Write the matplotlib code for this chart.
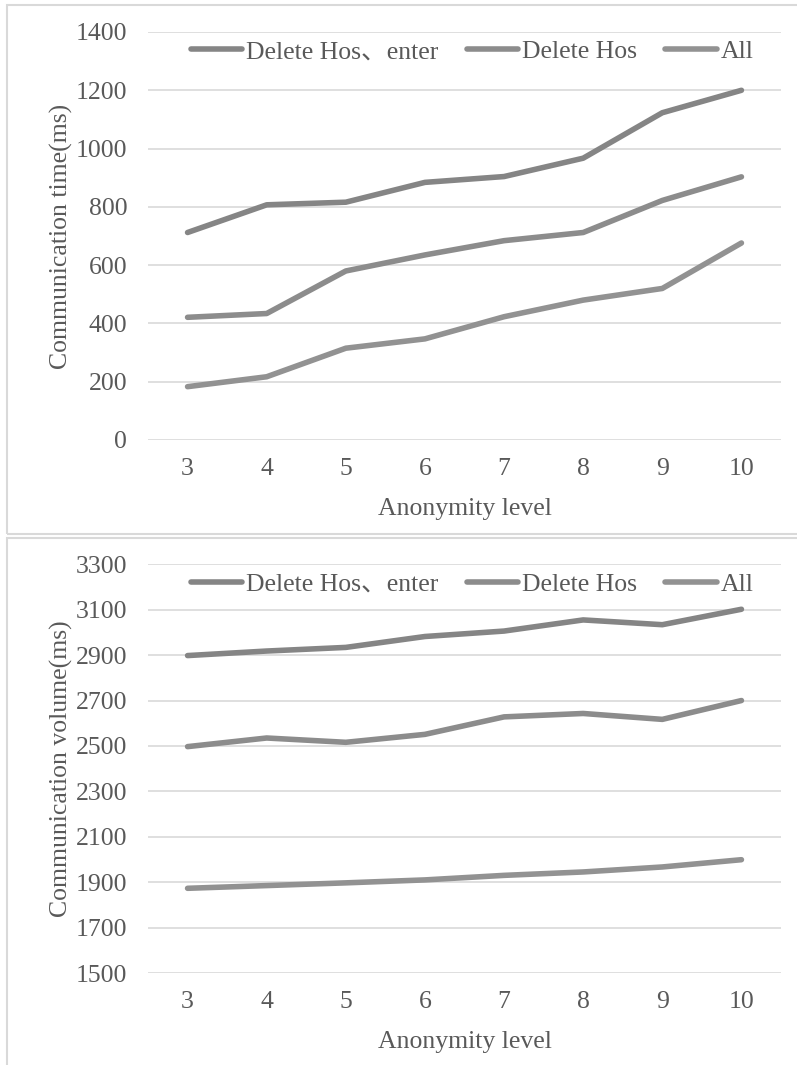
import matplotlib
matplotlib.use("Agg")
import matplotlib.pyplot as plt
from matplotlib.patches import Rectangle

plt.rcParams['font.family'] = ['Liberation Serif', 'Noto Sans CJK SC']

levels = [3, 4, 5, 6, 7, 8, 9, 10]
series_names = ['Delete Hos、enter', 'Delete Hos', 'All']

# communication time (ms)
time_hos_enter = [712, 807, 816, 884, 904, 967, 1123, 1200]
time_hos = [421, 434, 580, 635, 684, 712, 822, 903]
time_all = [183, 217, 315, 347, 423, 480, 520, 676]

# communication volume
vol_hos_enter = [2898, 2918, 2934, 2982, 3006, 3055, 3034, 3102]
vol_hos = [2497, 2535, 2516, 2551, 2628, 2643, 2617, 2700]
vol_all = [1873, 1885, 1897, 1910, 1930, 1945, 1967, 1999]

text_col = '#595959'
grid_col = '#d9d9d9'
line_cols = ['#858585', '#8c8c8c', '#929292']
fs = 18.5

W, H = 797, 1065
fig = plt.figure(figsize=(W / 100, H / 100), dpi=100)
fig.patch.set_facecolor('white')

# panel frames
fig.patches.append(Rectangle((7 / W, 1 - 534 / H), 795 / W, 529 / H, transform=fig.transFigure,
                             fill=False, edgecolor=grid_col, linewidth=1.5))
fig.patches.append(Rectangle((7 / W, 1 - 1070 / H), 795 / W, 532 / H, transform=fig.transFigure,
                             fill=False, edgecolor=grid_col, linewidth=1.5))


def draw_panel(rect, series, ylim, step, ylabel):
    ax = fig.add_axes(rect)
    for vals, name, c in zip(series, series_names, line_cols):
        ax.plot(levels, vals, color=c, linewidth=4, solid_capstyle='round', label=name)
    ax.set_xlim(2.5, 10.5)
    ax.set_ylim(*ylim)
    ax.set_xticks(levels)
    ax.set_yticks(range(ylim[0], ylim[1] + 1, step))
    ax.grid(axis='y', color=grid_col, linewidth=1.2)
    ax.set_axisbelow(True)
    for s in ax.spines.values():
        s.set_visible(False)
    ax.tick_params(length=0, labelsize=fs, colors=text_col)
    ax.tick_params(axis='y', pad=15)
    ax.tick_params(axis='x', pad=13)
    ax.set_xlabel('Anonymity level', fontsize=fs, color=text_col, labelpad=13)
    ax.set_ylabel(ylabel, fontsize=fs, color=text_col, labelpad=2)
    leg = ax.legend(loc='center', bbox_to_anchor=(0.512, 0.951), ncol=3, frameon=False,
                    fontsize=fs, handlelength=2.0, handletextpad=0.15, columnspacing=1.1,
                    borderaxespad=0)
    for t in leg.get_texts():
        t.set_color(text_col)
    return ax


left = 148 / W
width = 633 / W
draw_panel([left, 1 - 440 / H, width, 408 / H],
           [time_hos_enter, time_hos, time_all], (0, 1400), 200,
           'Communication time(ms)')
draw_panel([left, 1 - 973 / H, width, 408.7 / H],
           [vol_hos_enter, vol_hos, vol_all], (1500, 3300), 200,
           'Communication volume(ms)')

fig.savefig('out.png', dpi=100)
